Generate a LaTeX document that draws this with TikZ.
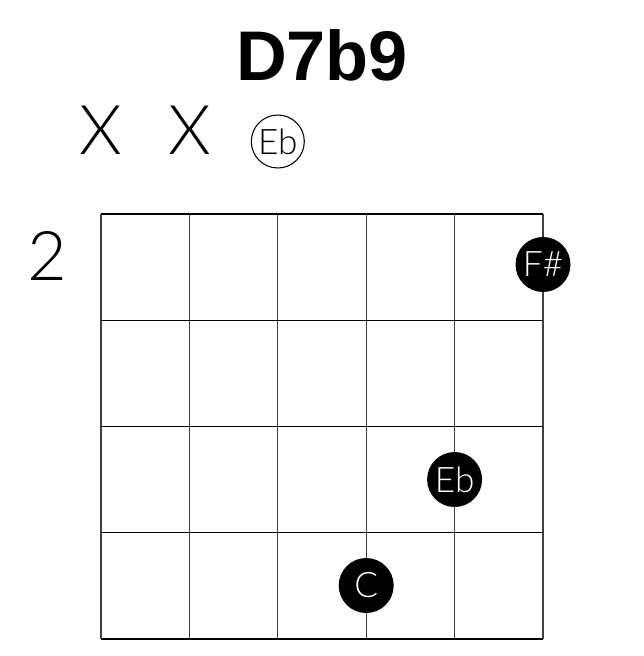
\documentclass[tikz,border=0pt]{standalone}
\usepackage{fontspec}
\setmainfont{Liberation Sans}
\newfontfamily\thinfont{Lato Light}
\usetikzlibrary{positioning}

\tikzset{
  chordname/.style={font=\bfseries\fontsize{40}{40}\selectfont},
  mutemark/.style={font=\thinfont\fontsize{39}{39}\selectfont},
  fretnum/.style={font=\thinfont\fontsize{39}{39}\selectfont},
  opennote/.style={circle,draw,line width=0.6pt,minimum size=1.06cm,inner sep=0pt,font=\thinfont\fontsize{20}{20}\selectfont},
  fingerdot/.style={circle,fill=black,minimum size=1.1cm,inner sep=0pt,text=white,font=\thinfont\fontsize{20}{20}\selectfont},
  fretline/.style={line width=0.6pt,black},
  stringline/.style={line width=0.6pt,black!75}
}

\begin{document}
\begin{tikzpicture}[x=0.02cm,y=-0.02cm]
\useasboundingbox (0,0) rectangle (644,656);
% chord name and open / muted strings
\node[chordname] (chord) at (322,55) {D7b9};
\node[mutemark] (mute1) at (101,130) {X};
\node[mutemark] (mute2) at (189.4,130) {X};
\node[opennote] (open3) at (277.8,141.5) {Eb};
\node[fretnum] (fret) at (47.5,256) {2};
% strings and frets
\foreach \i in {0,...,5}
  \draw[stringline] (101+88.4*\i,214) -- (101+88.4*\i,639);
\foreach \j in {0,...,4}
  \draw[fretline] (101,214+106.25*\j) -- (543,214+106.25*\j);
% fingers
\node[fingerdot] (fsharp) at (543,264.5) {F\#};
\node[fingerdot] (eflat) at (454.6,479.5) {Eb};
\node[fingerdot] (cnat) at (366.2,585.5) {C};
\end{tikzpicture}
\end{document}
